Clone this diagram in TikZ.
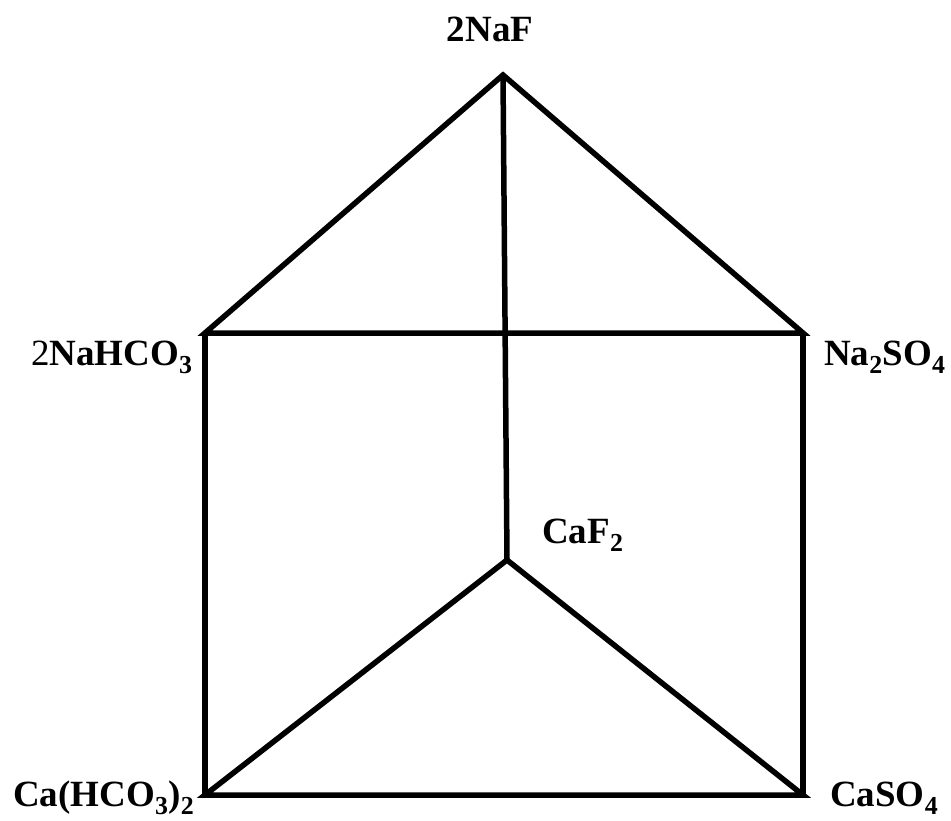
\documentclass[tikz,border=0pt]{standalone}
\usepackage{fontspec}
\setmainfont{Liberation Serif}
\usepackage{tikz}

\newcommand{\sub}[1]{\textsubscript{#1}}

\begin{document}
\begin{tikzpicture}[x=1pt, y=-1pt,
    edge/.style={line width=5.5pt, line join=miter},
    lbl/.style={font=\fontsize{37}{44}\selectfont\bfseries, inner sep=0pt}]
  \useasboundingbox (0,0) rectangle (951,821);
  % corners of the prism
  \coordinate (naf) at (503,75);
  \coordinate (nahco) at (205,333);
  \coordinate (naso) at (803,333);
  \coordinate (caf) at (507,560);
  \coordinate (cahco) at (205,795);
  \coordinate (caso) at (803,795);
  % labels
  \node[lbl, anchor=base] (tnaf) at (490,42) {2NaF};
  \node[lbl, anchor=base west] (tnahco) at (31,365) {\mdseries 2\bfseries NaHCO\sub{3}};
  \node[lbl, anchor=base west] (tnaso) at (824,365) {Na\sub{2}SO\sub{4}};
  \node[lbl, anchor=base west] (tcaf) at (542,543) {CaF\sub{2}};
  \node[lbl, anchor=base west] (tcahco) at (13,806) {Ca(HCO\sub{3})\sub{2}};
  \node[lbl, anchor=base west] (tcaso) at (830,806) {CaSO\sub{4}};
  % edges
  \draw[edge] (nahco) -- (naf) -- (naso) -- cycle;
  \draw[edge] (cahco) -- (caf) -- (caso) -- cycle;
  \draw[edge] (naf) -- (caf);
  \draw[edge] (nahco) -- (cahco);
  \draw[edge] (naso) -- (caso);
\end{tikzpicture}
\end{document}
